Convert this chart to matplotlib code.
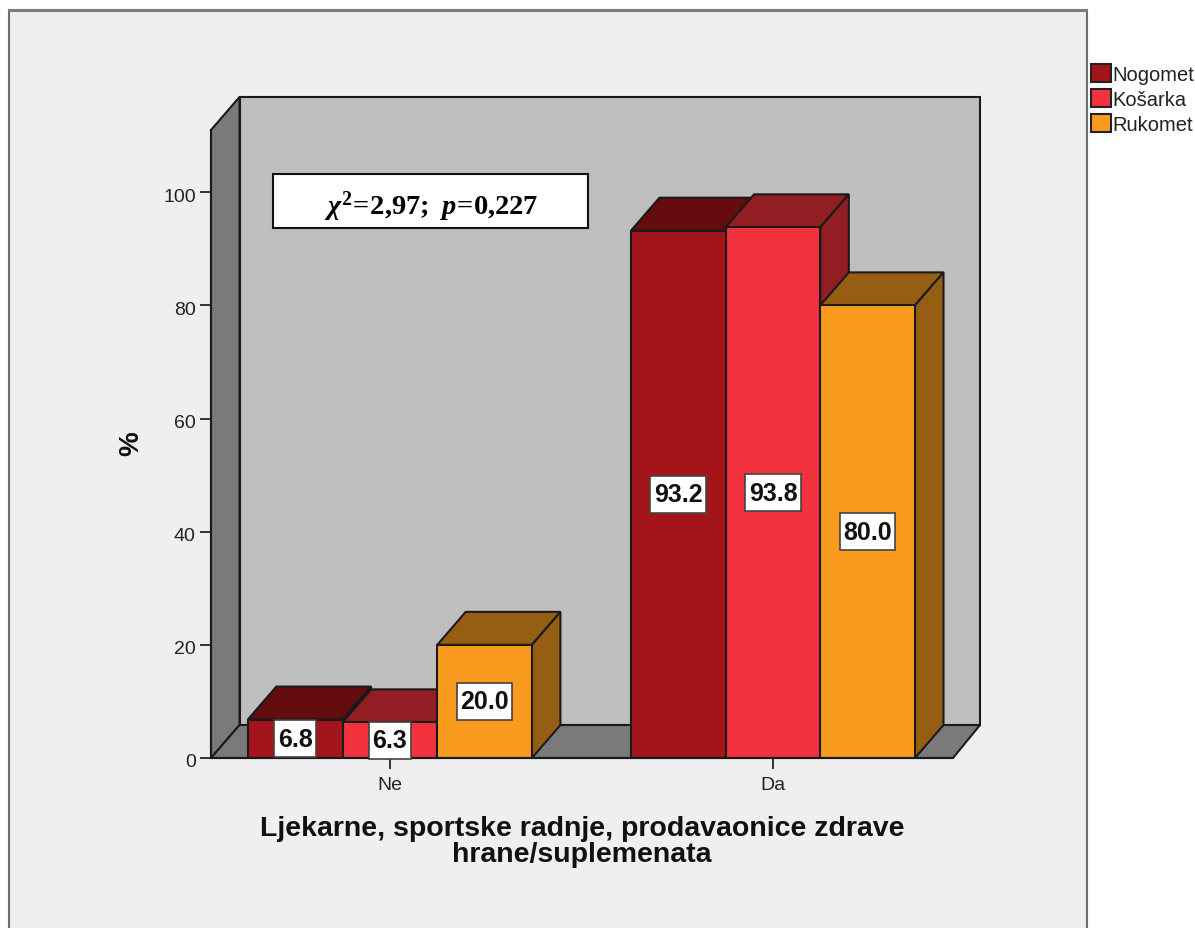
import matplotlib
matplotlib.use("Agg")
import matplotlib.pyplot as plt
from matplotlib.patches import Polygon, Rectangle
from matplotlib.path import Path
from matplotlib.transforms import ScaledTranslation

categories = ["Ne", "Da"]
series_names = ["Nogomet", "Košarka", "Rukomet"]
nogomet = [6.8, 93.2]
kosarka = [6.3, 93.8]
rukomet = [20.0, 80.0]
series_values = [nogomet, kosarka, rukomet]
front_colors = ["#A3151A", "#F2323C", "#F99B1E"]
top_colors = ["#650C0F", "#921E24", "#965E12"]
y_ticks = [0, 20, 40, 60, 80, 100]

plt.rcParams["font.family"] = ["Liberation Sans", "DejaVu Sans"]
plt.rcParams["mathtext.fontset"] = "custom"
plt.rcParams["mathtext.rm"] = "Liberation Serif:bold"
plt.rcParams["mathtext.bf"] = "Liberation Serif:bold"
plt.rcParams["mathtext.it"] = "Liberation Serif:italic:bold"

W, H = 1195, 929
fig = plt.figure(figsize=(W / 100, H / 100), dpi=100, facecolor="white")

# grey panel behind the chart, runs off the bottom of the picture
fig.add_artist(Rectangle((9 / W, -0.05), 1078 / W, 1.05 - 11 / H, transform=fig.transFigure,
                         facecolor="#EFEFEF", edgecolor="#6E6E6E", linewidth=1.5, zorder=-1))
fig.add_artist(Rectangle((8 / W, 1 - 13 / H), 1080 / W, 3 / H, transform=fig.transFigure,
                         facecolor="#7C7C7C", edgecolor="none", zorder=-1))

ax = fig.add_axes([211 / W, 1 - 759 / H, 742 / W, 628 / H])
ax.patch.set_visible(False)
x_min, x_max = -0.467, 1.470
y_max = 111
ax.set_xlim(x_min, x_max)
ax.set_ylim(0, y_max)

# depth of the fake 3D effect in data units
dx = 28.5 / 383
dy = 33 / 5.66
wall_right = x_max + 27 / 383
edge = "#1A1A1A"
lw = 1.5

ax.add_patch(Polygon([(x_min + dx, dy), (wall_right, dy), (wall_right, y_max + dy), (x_min + dx, y_max + dy)],
                     closed=True, facecolor="#BEBEBE", edgecolor=edge, linewidth=lw, clip_on=False))
ax.add_patch(Polygon([(x_min, 0), (x_min + dx, dy), (x_min + dx, y_max + dy), (x_min, y_max)],
                     closed=True, facecolor="#7A7A7A", edgecolor=edge, linewidth=lw, clip_on=False))
ax.add_patch(Polygon([(x_min, 0), (x_max, 0), (wall_right, dy), (x_min + dx, dy)],
                     closed=True, facecolor="#7A7A7A", edgecolor=edge, linewidth=lw, clip_on=False))

bar_w = 94.67 / 383
for c in range(len(categories)):
    for s, values in enumerate(series_values):
        v = values[c]
        left = c + (s - 1.5) * bar_w
        right = left + bar_w
        ax.add_patch(Polygon([(left, v), (right, v), (right + dx, v + dy), (left + dx, v + dy)],
                             closed=True, facecolor=top_colors[s], edgecolor=edge, linewidth=lw, clip_on=False))
        ax.add_patch(Polygon([(right, 0), (right + dx, dy), (right + dx, v + dy), (right, v)],
                             closed=True, facecolor=top_colors[s], edgecolor=edge, linewidth=lw, clip_on=False))
        ax.bar(left + bar_w / 2, v, bar_w, color=front_colors[s], edgecolor=edge, linewidth=lw)


def tall_box(x0, y0, width, height, mutation_size):
    # label boxes in the reference are taller than a square pad gives
    pad_x, half_h = 3.5, 18.5
    mid = y0 + height / 2
    return Path([(x0 - pad_x, mid - half_h), (x0 + width + pad_x, mid - half_h),
                 (x0 + width + pad_x, mid + half_h), (x0 - pad_x, mid + half_h),
                 (x0 - pad_x, mid - half_h)], closed=True)


for c in range(len(categories)):
    for s, values in enumerate(series_values):
        ax.text(c + (s - 1) * bar_w, values[c] / 2, f"{values[c]:.1f}", ha="center", va="center",
                fontsize=18, fontweight="bold", color="#111111", zorder=6,
                bbox=dict(boxstyle=tall_box, facecolor="white", edgecolor="#444444", linewidth=1.2))

# statistics box
ax.add_patch(Rectangle((-0.305, 93.6), 0.8225, 9.6, facecolor="white", edgecolor="#111111",
                       linewidth=1.5, zorder=5))
ax.text(0.107, 97.6, r"$\chi^{2}\!\mathbf{=}\!\mathbf{2{,}97;}\ p\!\mathbf{=}\!\mathbf{0{,}227}$",
        ha="center", va="center", fontsize=20.5, color="black", zorder=6)

ax.spines["top"].set_visible(False)
ax.spines["right"].set_visible(False)
for side in ["left", "bottom"]:
    ax.spines[side].set_linewidth(lw)
    ax.spines[side].set_color(edge)
    ax.spines[side].set_zorder(4)

ax.set_xticks(range(len(categories)), categories)
ax.set_yticks(y_ticks)
ax.tick_params(axis="both", length=8, width=1.4, color="#333333", labelsize=14, labelcolor="#222222", pad=3)
ax.tick_params(axis="x", pad=5)
# y labels sit a little below their ticks
for label in ax.get_yticklabels():
    label.set_transform(label.get_transform() + ScaledTranslation(0, -2 / 100, fig.dpi_scale_trans))

ax.text(0.5, -0.09, "Ljekarne, sportske radnje, prodavaonice zdrave\nhrane/suplemenata",
        transform=ax.transAxes, ha="center", va="top", fontsize=20.5, fontweight="bold",
        linespacing=1.03, color="#111111")
fig.text(131 / W, 1 - 444 / H, "%", rotation=90, ha="center", va="center", fontsize=20, fontweight="bold",
         color="#111111")

handles = [Rectangle((0, 0), 1, 1, facecolor=front_colors[i], edgecolor="#222222", linewidth=1.5)
           for i in range(len(series_names))]
fig.legend(handles, series_names, loc="upper left", bbox_to_anchor=(1087 / W, 1 - 61 / H), frameon=False,
           fontsize=14.5, handlelength=1.0, handleheight=1.0, handletextpad=0.05, labelspacing=0.25,
           borderpad=0.2, borderaxespad=0, labelcolor="#222222")

fig.savefig("out.png", dpi=100)
